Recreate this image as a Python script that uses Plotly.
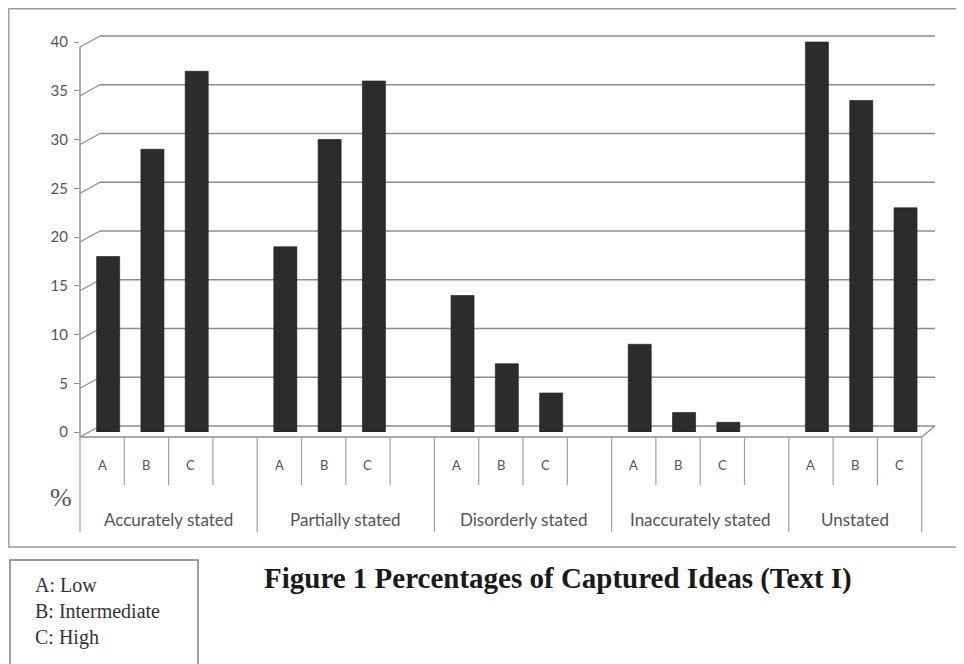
import plotly.graph_objects as go

# ---------------- data ----------------
groups = ["Accurately stated", "Partially stated", "Disorderly stated",
          "Inaccurately stated", "Unstated"]
levels = ["A", "B", "C"]
low_vals = [18, 19, 14, 9, 40]      # A
mid_vals = [29, 30, 7, 2, 34]       # B
high_vals = [37, 36, 4, 1, 23]      # C
y_ticks = [0, 5, 10, 15, 20, 25, 30, 35, 40]
slots_per_group = [4, 4, 4, 4, 3]
legend_lines = ["A: Low", "B: Intermediate", "C: High"]
title_text = "Figure 1 Percentages of Captured Ideas (Text I)"

# ---------------- geometry (reference pixel coords) ----------------
OFF = 8                 # page body margin offset
W, H = 964, 664
L, R = 80, 935          # plot area (px)
T, B = 32, 432
X0, X1 = -0.5, 18.8     # x data range
Y1 = 40 * (B - T) / 390.0

def px2x(p):
    return (p - L) / (R - L)

def px2y(p):
    return (B - p) / (B - T)

def xv2p(v):
    return (v - X0) / (X1 - X0)

def yv2px(v):
    return B - v * (B - T) / Y1

starts = []
s = 0
for n in slots_per_group:
    starts.append(s)
    s += n

series = [low_vals, mid_vals, high_vals]
fig = go.Figure()
for k, (lab, vals) in enumerate(zip(levels, series)):
    fig.add_trace(go.Bar(
        x=[starts[g] + k for g in range(len(groups))],
        y=vals,
        name=lab,
        width=0.52,
        offset=-0.125,
        marker=dict(color="#2c2c2a", line=dict(color="#1b1b1a", width=0.6)),
        showlegend=False,
    ))

grey = "#8c8c8c"
shapes = []
# back-wall gridlines with 3D diagonal connectors
for v in y_ticks:
    yf = yv2px(v) + 5
    yb = yv2px(v) - 6
    shapes.append(dict(type="line", xref="paper", yref="paper",
                       x0=px2x(100), x1=px2x(935), y0=px2y(yb), y1=px2y(yb),
                       line=dict(color=grey, width=1.6), layer="below"))
    shapes.append(dict(type="line", xref="paper", yref="paper",
                       x0=px2x(80), x1=px2x(100), y0=px2y(yf), y1=px2y(yb),
                       line=dict(color=grey, width=1.2), layer="below"))
# y axis line
shapes.append(dict(type="line", xref="paper", yref="paper",
                   x0=0, x1=0, y0=px2y(yv2px(40) + 5), y1=px2y(yv2px(0) + 5),
                   line=dict(color=grey, width=1.4)))
# floor front edge + right diagonal
front = yv2px(0) + 5
back = yv2px(0) - 6
end_x = xv2p(starts[-1] + slots_per_group[-1] - 0.5)
shapes.append(dict(type="line", xref="paper", yref="paper",
                   x0=0, x1=end_x, y0=px2y(front), y1=px2y(front),
                   line=dict(color=grey, width=1.4)))
shapes.append(dict(type="line", xref="paper", yref="paper",
                   x0=end_x, x1=px2x(935), y0=px2y(front), y1=px2y(back),
                   line=dict(color=grey, width=1.2)))

# category dividers and labels
annotations = []
for g, (name, n) in enumerate(zip(groups, slots_per_group)):
    st = starts[g]
    shapes.append(dict(type="line", xref="paper", yref="paper",
                       x0=xv2p(st - 0.5), x1=xv2p(st - 0.5),
                       y0=px2y(front), y1=px2y(532),
                       line=dict(color="#a0a0a0", width=1.2)))
    for j in range(1, n):
        shapes.append(dict(type="line", xref="paper", yref="paper",
                           x0=xv2p(st + j - 0.5), x1=xv2p(st + j - 0.5),
                           y0=px2y(front), y1=px2y(485),
                           line=dict(color="#a0a0a0", width=1.2)))
    for k, lab in enumerate(levels):
        annotations.append(dict(x=st + k, y=px2y(465), xref="x", yref="paper",
                                xanchor="center", yanchor="middle",
                                text=lab, showarrow=False,
                                font=dict(family="Lato", size=13, color="#555555")))
    annotations.append(dict(x=st + (n - 1) / 2.0, y=px2y(519), xref="x", yref="paper",
                            xanchor="center", yanchor="middle",
                            text=name, showarrow=False,
                            font=dict(family="Lato", size=17, color="#555555")))
shapes.append(dict(type="line", xref="paper", yref="paper",
                   x0=end_x, x1=end_x, y0=px2y(front), y1=px2y(532),
                   line=dict(color="#a0a0a0", width=1.2)))

# outer frame
shapes.append(dict(type="rect", xref="paper", yref="paper",
                   x0=px2x(OFF + 0.8), x1=px2x(962), y0=px2y(OFF + 0.8), y1=px2y(547),
                   line=dict(color="#9a9a9a", width=1.4)))
# legend box
shapes.append(dict(type="rect", xref="paper", yref="paper",
                   x0=px2x(10), x1=px2x(198), y0=px2y(560), y1=px2y(670),
                   line=dict(color="#777777", width=1.4)))

# "%" label
annotations.append(dict(x=px2x(61), y=px2y(497), xref="paper", yref="paper",
                        xanchor="center", yanchor="middle",
                        text="%", showarrow=False,
                        font=dict(family="Liberation Serif", size=26, color="#555555")))
# legend text
for i, line in enumerate(legend_lines):
    annotations.append(dict(x=px2x(33), y=px2y(585 + 26 * i), xref="paper", yref="paper",
                            xanchor="left", yanchor="middle", text=line, showarrow=False,
                            font=dict(family="Liberation Serif", size=20, color="#333333")))
# caption
annotations.append(dict(x=px2x(558), y=px2y(578), xref="paper", yref="paper",
                        xanchor="center", yanchor="middle",
                        text="<b>" + title_text + "</b>", showarrow=False,
                        font=dict(family="Liberation Serif", size=29, color="#1a1a1a")))

fig.update_layout(
    width=W - OFF, height=H - OFF,
    margin=dict(l=L - OFF, r=W - R, t=T - OFF, b=H - B, pad=0),
    paper_bgcolor="white", plot_bgcolor="rgba(0,0,0,0)",
    barmode="overlay",
    xaxis=dict(range=[X0, X1], showgrid=False, zeroline=False, showline=False,
               showticklabels=False, ticks=""),
    yaxis=dict(range=[0, Y1], tickvals=y_ticks, showgrid=False, zeroline=False,
               showline=False, ticks="outside", ticklen=5, tickcolor=grey,
               tickfont=dict(family="Lato", size=15, color="#555555"),
               ticklabelstandoff=3),
    shapes=shapes,
    annotations=annotations,
)

fig.write_html("out.html")
